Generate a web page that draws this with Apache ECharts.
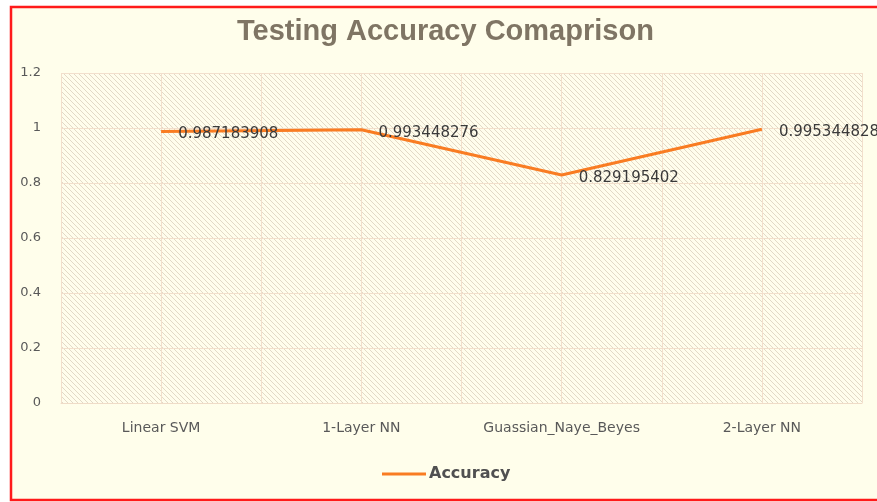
<!DOCTYPE html>
<html>
<head>
<meta charset="utf-8">
<script src="https://cdn.jsdelivr.net/npm/echarts@6/dist/echarts.min.js"></script>
<style>
  html, body { margin: 0; padding: 0; background: #ffffff; }
  #chart { width: 877px; height: 502px; }
</style>
</head>
<body>
<div id="chart"></div>
<script>
// data
var categories = ['Linear SVM', '1-Layer NN', 'Guassian_Naye_Beyes', '2-Layer NN']
var accuracy = [0.987183908, 0.993448276, 0.829195402, 0.995344828]

// diagonal hatch for the plot area
function hatch() {
  var c = document.createElement('canvas')
  c.width = 5
  c.height = 5
  var ctx = c.getContext('2d')
  ctx.fillStyle = '#fffdec'
  ctx.fillRect(0, 0, 5, 5)
  ctx.strokeStyle = '#e2d9c6'
  ctx.lineWidth = 1
  ctx.beginPath()
  ctx.moveTo(-1, -1); ctx.lineTo(6, 6)
  ctx.moveTo(-1, 4); ctx.lineTo(1, 6)
  ctx.moveTo(4, -1); ctx.lineTo(6, 1)
  ctx.stroke()
  return { image: c, repeat: 'repeat' }
}

var chart = echarts.init(document.getElementById('chart'))
chart.setOption({
  animation: false,
  backgroundColor: '#ffffff',
  graphic: [{
    type: 'rect',
    z: -10,
    shape: { x: 11, y: 7, width: 900, height: 493 },
    style: { fill: '#fffeeb', stroke: '#ff1a1a', lineWidth: 2.5 }
  }],
  title: {
    text: 'Testing Accuracy Comaprison',
    left: 232,
    top: 12,
    textStyle: { fontFamily: 'Liberation Sans', fontSize: 29, fontWeight: 'bold', color: '#7f7564' }
  },
  grid: {
    left: 61, right: 15, top: 73, bottom: 99,
    show: true,
    borderWidth: 0,
    backgroundColor: hatch()
  },
  xAxis: [{
    type: 'category',
    data: categories,
    boundaryGap: true,
    axisLine: { show: true, lineStyle: { color: '#efdcc8' } },
    axisTick: { show: false },
    splitLine: { show: false },
    axisLabel: { interval: 0, color: '#595959', fontFamily: 'DejaVu Sans', fontSize: 14, margin: 18 }
  }, {
    type: 'value',
    min: 0, max: 8, interval: 1,
    position: 'bottom',
    axisLine: { show: false },
    axisTick: { show: false },
    axisLabel: { show: false },
    splitLine: { show: true, lineStyle: { color: '#f2dfcc', width: 1 } }
  }],
  yAxis: {
    type: 'value',
    min: 0, max: 1.2, interval: 0.2,
    axisLine: { show: false },
    axisTick: { show: false },
    axisLabel: {
      color: '#595959', fontFamily: 'DejaVu Sans', fontSize: 13, margin: 20,
      formatter: function(v) { return Math.round(v * 10) / 10 + '' }
    },
    splitLine: { show: true, lineStyle: { color: '#f2dfcc', width: 1 } }
  },
  legend: {
    top: 466,
    left: 382,
    padding: 0,
    icon: 'rect',
    itemWidth: 44,
    itemHeight: 3,
    itemGap: 4,
    textStyle: { color: '#505050', fontFamily: 'DejaVu Sans', fontSize: 16, fontWeight: 'bold', padding: [0, 0, 0, -2] },
    data: ['Accuracy']
  },
  series: [{
    name: 'Accuracy',
    type: 'line',
    xAxisIndex: 0,
    data: accuracy,
    symbol: 'circle',
    symbolSize: 0.1,
    showSymbol: true,
    lineStyle: { color: '#f97c22', width: 3 },
    itemStyle: { color: '#f97c22' },
    label: {
      show: true,
      position: 'right',
      distance: 17,
      offset: [0, 3],
      color: '#3a3a3a',
      fontFamily: 'DejaVu Sans',
      fontSize: 15,
      formatter: function(p) { return p.value + '' }
    }
  }]
})
</script>
</body>
</html>
